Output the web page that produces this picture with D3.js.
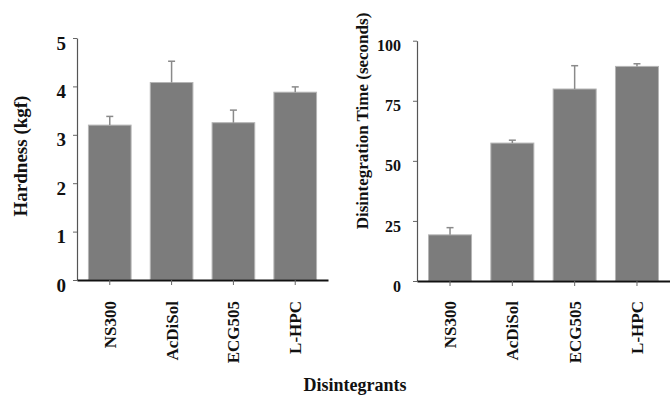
<!DOCTYPE html>
<html>
<head>
<meta charset="utf-8">
<title>Hardness and disintegration time</title>
<script src="https://d3js.org/d3.v7.min.js"></script>
<style>
  body { margin: 0; background: #fff; }
  svg text { font-family: "Liberation Serif", "Times New Roman", serif; font-weight: bold; fill: #111; }
</style>
</head>
<body>
<script>
// values
const categories = ["NS300", "AcDiSol", "ECG505", "L-HPC"];
const hardness = [3.20, 4.08, 3.25, 3.88];
const hardnessErr = [0.18, 0.44, 0.26, 0.11];
const hardnessTicks = [0, 1, 2, 3, 4, 5];
const disTime = [19.2, 57.4, 79.9, 89.3];
const disTimeErr = [3.0, 1.2, 9.7, 1.1];
const disTimeTicks = [0, 25, 50, 75, 100];

const width = 670, height = 396;

const svg = d3.select("body").append("svg")
    .attr("width", width)
    .attr("height", height);

function drawPanel(cfg) {
    const x = d3.scaleBand()
        .domain(categories)
        .range([cfg.x0, cfg.x1])
        .paddingInner(0.31)
        .paddingOuter(0.185);

    const y = d3.scaleLinear()
        .domain(cfg.domain)
        .range([cfg.y0, cfg.y1]);

    const g = svg.append("g");

    // bars
    g.selectAll("rect.bar")
        .data(categories)
        .enter()
        .append("rect")
        .attr("class", "bar")
        .attr("x", d => x(d))
        .attr("width", x.bandwidth())
        .attr("y", (d, i) => y(cfg.values[i]))
        .attr("height", (d, i) => y(0) - y(cfg.values[i]))
        .attr("fill", "#7c7c7c")
        .attr("stroke", "#b5b5b5")
        .attr("stroke-width", 1);

    // upper error whiskers
    const err = g.selectAll("g.err")
        .data(categories)
        .enter()
        .append("g")
        .attr("class", "err")
        .attr("stroke", "#8a8a8a")
        .attr("stroke-width", 1.5);

    err.append("line")
        .attr("x1", d => x(d) + x.bandwidth() / 2)
        .attr("x2", d => x(d) + x.bandwidth() / 2)
        .attr("y1", (d, i) => y(cfg.values[i]))
        .attr("y2", (d, i) => y(cfg.values[i] + cfg.errors[i]));

    err.append("line")
        .attr("x1", d => x(d) + x.bandwidth() / 2 - 3.5)
        .attr("x2", d => x(d) + x.bandwidth() / 2 + 3.5)
        .attr("y1", (d, i) => y(cfg.values[i] + cfg.errors[i]))
        .attr("y2", (d, i) => y(cfg.values[i] + cfg.errors[i]));

    // y axis
    const yAxis = g.append("g")
        .attr("transform", `translate(${cfg.x0},0)`)
        .call(d3.axisLeft(y).tickValues(cfg.ticks).tickFormat(d3.format("d"))
            .tickSize(4).tickSizeOuter(0).tickPadding(cfg.tickPad));
    yAxis.select(".domain").attr("stroke", "#555").attr("stroke-width", 1.2);
    yAxis.selectAll(".tick line").attr("stroke", "#666");
    yAxis.selectAll(".tick text")
        .attr("y", 5)
        .style("font-size", cfg.tickFont + "px")
        .style("font-family", "'Liberation Serif', serif")
        .style("font-weight", "bold")
        .attr("fill", "#111");

    // x axis
    const xAxis = g.append("g")
        .attr("transform", `translate(0,${cfg.y0})`)
        .call(d3.axisBottom(x).tickSize(5).tickSizeOuter(0));
    xAxis.select(".domain").attr("stroke", "#111").attr("stroke-width", 2);
    xAxis.selectAll(".tick line").attr("stroke", "#666");
    xAxis.selectAll(".tick text")
        .attr("transform", "rotate(-90)")
        .attr("x", -(301 - cfg.y0))
        .attr("y", 0)
        .attr("dy", "0.35em")
        .attr("text-anchor", "end")
        .style("font-size", "17px")
        .style("font-family", "'Liberation Serif', serif")
        .style("font-weight", "bold")
        .attr("fill", "#111");

    // y title
    svg.append("text")
        .attr("transform", `translate(${cfg.titleX},${cfg.titleY}) rotate(-90)`)
        .attr("text-anchor", "middle")
        .attr("dy", "0.35em")
        .style("font-size", cfg.titleFont + "px")
        .text(cfg.title);
}

drawPanel({
    x0: 77, x1: 328, y0: 280, y1: 38,
    domain: [0, 5],
    ticks: hardnessTicks,
    values: hardness,
    errors: hardnessErr,
    tickFont: 19, tickPad: 7,
    title: "Hardness (kgf)", titleX: 20, titleY: 156, titleFont: 19
});

drawPanel({
    x0: 417, x1: 670, y0: 281, y1: 40.7,
    domain: [0, 100],
    ticks: disTimeTicks,
    values: disTime,
    errors: disTimeErr,
    tickFont: 16, tickPad: 12,
    title: "Disintegration Time (seconds)", titleX: 362, titleY: 121, titleFont: 17
});

svg.append("text")
    .attr("x", 355)
    .attr("y", 391)
    .attr("text-anchor", "middle")
    .style("font-size", "18px")
    .text("Disintegrants");
</script>
</body>
</html>
